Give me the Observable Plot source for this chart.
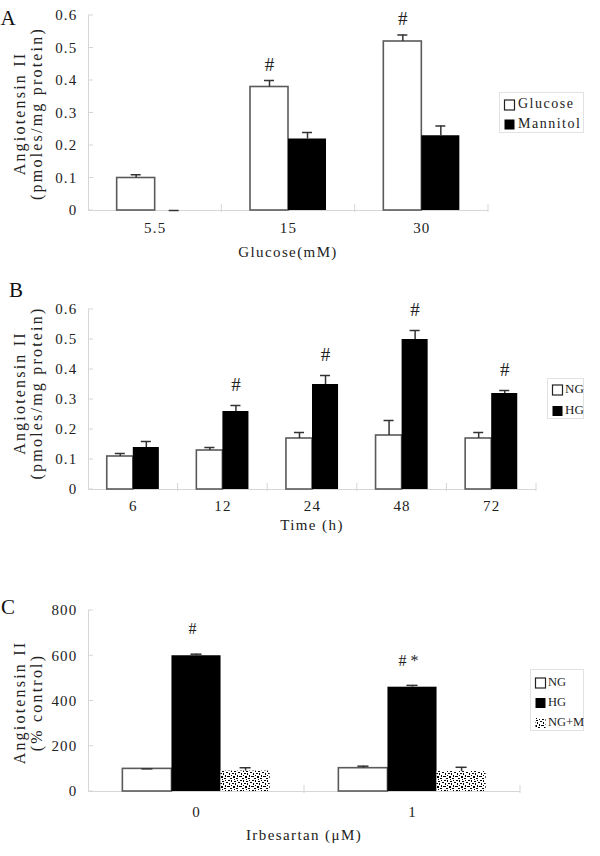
<!DOCTYPE html>
<html>
<head>
<meta charset="utf-8">
<script src="https://cdn.jsdelivr.net/npm/d3@7"></script>
<script src="https://cdn.jsdelivr.net/npm/@observablehq/plot@0.6"></script>
<style>
  body { margin: 0; background: #fff; }
  #root { position: relative; width: 600px; height: 856px; background: #fff; overflow: hidden; }
  #root svg { position: absolute; left: 0; }
</style>
</head>
<body>
<div id="root"></div>
<script>
// ---------- Panel A data ----------
const glucoseConc = ["5.5", "15", "30"];
const seriesA = ["Glucose", "Mannitol"];
const glucoseVals = [0.10, 0.38, 0.52];
const glucoseErr = [0.01, 0.02, 0.02];
const glucoseSig = ["", "#", "#"];
const mannitolVals = [0.0, 0.22, 0.23];
const mannitolErr = [0.0, 0.02, 0.03];
const mannitolSig = ["", "", ""];
const yTicksA = [0, 0.1, 0.2, 0.3, 0.4, 0.5, 0.6];

// ---------- Panel B data ----------
const timeH = ["6", "12", "24", "48", "72"];
const seriesB = ["NG", "HG"];
const ngVals = [0.11, 0.13, 0.17, 0.18, 0.17];
const ngErr = [0.01, 0.01, 0.02, 0.05, 0.02];
const ngSig = ["", "", "", "", ""];
const hgVals = [0.14, 0.26, 0.35, 0.50, 0.32];
const hgErr = [0.02, 0.02, 0.03, 0.03, 0.01];
const hgSig = ["", "#", "#", "#", "#"];
const yTicksB = [0, 0.1, 0.2, 0.3, 0.4, 0.5, 0.6];

// ---------- Panel C data ----------
const irbesartan = ["0", "1"];
const seriesC = ["NG", "HG", "NG+M"];
const ngCVals = [100, 103];
const ngCErr = [0, 9];
const ngCSig = ["", ""];
const hgCVals = [600, 461];
const hgCErr = [7, 8];
const hgCSig = ["#", "# *"];
const ngmCVals = [90, 88];
const ngmCErr = [15, 19];
const ngmCSig = ["", ""];
const yTicksC = [0, 200, 400, 600, 800];

const root = document.getElementById("root");
const SERIF = "'Liberation Serif', 'DejaVu Serif', serif";

function rowsFor(cats, names, vals, errs, sigs) {
  const out = [];
  cats.forEach((c, i) => names.forEach((s, j) => out.push({cat: c, series: s, value: vals[j][i], err: errs[j][i], sig: sigs[j][i]})));
  return out;
}

function drawPanel(cfg) {
  const rows = rowsFor(cfg.cats, cfg.series, cfg.vals, cfg.errs, cfg.sigs);
  const top = d => d.value + d.err;
  const marks = [Plot.ruleY([0], {stroke: "#d6d6d6", strokeWidth: 1})];
  cfg.series.forEach((s, j) => {
    marks.push(Plot.barY(rows.filter(d => d.series === s), {
      fx: "cat", x: "series", y: "value",
      fill: cfg.fills[j], stroke: cfg.strokes[j], strokeWidth: cfg.strokes[j] === "none" ? 0 : 1.6
    }));
  });
  marks.push(Plot.ruleX(rows.filter(d => d.err > 0), {fx: "cat", x: "series", y1: "value", y2: top, stroke: "#333", strokeWidth: 1.5}));
  marks.push(Plot.tickY(rows, {fx: "cat", x: "series", y: top, stroke: "#333", strokeWidth: 1.5, insetLeft: cfg.capInset, insetRight: cfg.capInset}));
  marks.push(Plot.text(rows.filter(d => d.sig), {fx: "cat", x: "series", y: top, text: "sig", dy: cfg.sigDy, dx: cfg.sigDx, fontSize: cfg.sigSize, fontFamily: SERIF, fill: "#222"}));
  marks.push(Plot.axisY({ticks: cfg.yTicks, tickFormat: cfg.tickFormat, tickSize: 0, tickPadding: 11, label: null, fontSize: 15, fontFamily: SERIF, fill: "#222"}));
  marks.push(Plot.axisFx({anchor: "bottom", tickSize: 0, tickPadding: cfg.fxPad, label: null, fontSize: 15, fontFamily: SERIF, fill: "#222"}));

  const plot = Plot.plot({
    width: 600, height: cfg.height,
    marginLeft: 88, marginRight: cfg.mRight, marginTop: cfg.mTop, marginBottom: cfg.mBottom,
    fx: {domain: cfg.cats, padding: 0, round: false},
    x: {domain: cfg.series, paddingInner: 0, paddingOuter: cfg.pad, round: false, axis: null},
    y: {domain: cfg.yDomain},
    style: {fontFamily: SERIF, fontSize: "15px", background: "transparent", overflow: "visible"},
    marks
  });

  const svg = d3.select(plot);
  svg.selectAll('[aria-label="y-axis tick label"] text, [aria-label="fx-axis tick label"] text').style("letter-spacing", "1.2px");

  if (cfg.defs) cfg.defs(svg);

  const fx = plot.scale("fx"), y = plot.scale("y");
  const y0 = y.apply(0), yTop = y.apply(cfg.yDomain[1]);
  const g = svg.insert("g", ":first-child").attr("stroke", "#d6d6d6").attr("fill", "none").attr("stroke-width", 1);
  g.append("line").attr("x1", 88.5).attr("x2", 88.5).attr("y1", yTop).attr("y2", y0);
  cfg.yTicks.forEach(t => g.append("line").attr("x1", 88).attr("x2", 93).attr("y1", y.apply(t)).attr("y2", y.apply(t)));
  cfg.cats.forEach(c => {
    const x0 = fx.apply(c) + fx.bandwidth;
    g.append("line").attr("x1", x0).attr("x2", x0).attr("y1", y0 - 6).attr("y2", y0 + 2);
  });

  // axis titles and panel letter
  const xc = (88 + 600 - cfg.mRight) / 2;
  svg.append("text").attr("x", xc).attr("y", y0 + cfg.xTitleOff).attr("text-anchor", "middle").attr("dominant-baseline", "middle")
    .attr("font-family", SERIF).attr("font-size", 15).attr("letter-spacing", "1.4px").attr("fill", "#222").text(cfg.xTitle);
  const yc = (y0 + yTop) / 2 + cfg.yTitleShift;
  cfg.yTitle.forEach((line, k) => {
    svg.append("text").attr("transform", `translate(${k === 0 ? 21 : 38},${yc}) rotate(-90)`).attr("text-anchor", "middle").attr("dominant-baseline", "middle")
      .attr("font-family", SERIF).attr("font-size", 16).attr("letter-spacing", "2.2px").attr("fill", "#222").text(line);
  });
  svg.append("text").attr("x", cfg.letterX).attr("y", cfg.letterY).attr("font-family", SERIF).attr("font-size", 21).attr("fill", "#111").text(cfg.letter);

  plot.style.top = cfg.top + "px";
  root.appendChild(plot);
  return plot;
}

function drawLegend(cfg) {
  const svg = d3.select(root).append("svg").attr("width", cfg.w).attr("height", cfg.h)
    .style("left", cfg.left + "px").style("top", cfg.top + "px");
  svg.append("rect").attr("x", 0.5).attr("y", 0.5).attr("width", cfg.w - 1).attr("height", cfg.h - 1).attr("fill", "#fff").attr("stroke", "#e2e2e2");
  cfg.names.forEach((n, i) => {
    const cy = cfg.y0 + i * cfg.step;
    svg.append("rect").attr("x", cfg.sx + 0.5).attr("y", cy - 5).attr("width", 10).attr("height", 10)
      .attr("fill", cfg.fills[i]).attr("stroke", cfg.strokes[i]).attr("stroke-width", cfg.strokes[i] === "none" ? 0 : 1.2);
    svg.append("text").attr("x", cfg.tx).attr("y", cy).attr("dominant-baseline", "middle")
      .attr("font-family", SERIF).attr("font-size", cfg.fontSize).attr("letter-spacing", cfg.spacing + "px").attr("fill", "#222").text(n);
  });
}

const tick1 = d => d === 0 ? "0" : d.toFixed(1);

// Panel A
drawPanel({
  top: 0, height: 270, mTop: 15, mBottom: 60, mRight: 112, pad: 0.754,
  cats: glucoseConc, series: seriesA,
  vals: [glucoseVals, mannitolVals], errs: [glucoseErr, mannitolErr], sigs: [glucoseSig, mannitolSig],
  fills: ["#fff", "#000"], strokes: ["#5a5a5a", "none"],
  yDomain: [0, 0.6], yTicks: yTicksA, tickFormat: tick1,
  capInset: 14, sigDy: -16, sigDx: 0, sigSize: 19, fxPad: 12,
  xTitle: "Glucose(mM)", xTitleOff: 44,
  yTitle: ["Angiotensin II", "(pmoles/mg protein)"], yTitleShift: 1,
  letter: "A", letterX: 8, letterY: 25
});
drawLegend({left: 499, top: 92, w: 85, h: 41, names: seriesA, fills: ["#fff", "#000"], strokes: ["#222", "none"],
  sx: 5, tx: 19, y0: 13, step: 19.5, fontSize: 14, spacing: 1.5});

// Panel B
drawPanel({
  top: 270, height: 290, mTop: 39, mBottom: 71, mRight: 64, pad: 0.72,
  cats: timeH, series: seriesB,
  vals: [ngVals, hgVals], errs: [ngErr, hgErr], sigs: [ngSig, hgSig],
  fills: ["#fff", "#000"], strokes: ["#5a5a5a", "none"],
  yDomain: [0, 0.6], yTicks: yTicksB, tickFormat: tick1,
  capInset: 8, sigDy: -21, sigDx: 0, sigSize: 19, fxPad: 11,
  xTitle: "Time (h)", xTitleOff: 38,
  yTitle: ["Angiotensin II", "(pmoles/mg protein)"], yTitleShift: -6,
  letter: "B", letterX: 16, letterY: 27
});
drawLegend({left: 547, top: 378, w: 37, h: 41, names: seriesB, fills: ["#fff", "#000"], strokes: ["#222", "none"],
  sx: 5, tx: 18, y0: 12, step: 21, fontSize: 13, spacing: 0});

// Panel C
function ngmPattern(svg) {
  const defs = svg.append("defs");
  const mk = (id, w, h, cells) => {
    const p = defs.append("pattern").attr("id", id).attr("width", w).attr("height", h).attr("patternUnits", "userSpaceOnUse");
    p.append("rect").attr("width", w).attr("height", h).attr("fill", "#fff");
    cells.forEach(([x, yy, cw, ch]) => p.append("rect").attr("x", x).attr("y", yy).attr("width", cw).attr("height", ch).attr("fill", "#000"));
  };
  mk("ngm", 12, 10, [[0,0,2,1],[3,0,1,2],[6,1,2,1],[9,0,1,1],[10,2,2,1],[1,3,1,2],[4,3,2,1],[7,3,1,2],[0,6,2,1],[3,5,1,1],[5,6,2,2],[9,5,1,2],[11,6,1,1],[2,8,2,1],[6,9,1,1],[8,8,2,1]]);
}
drawPanel({
  top: 560, height: 296, mTop: 50, mBottom: 65, mRight: 80, pad: 0.70,
  cats: irbesartan, series: seriesC,
  vals: [ngCVals, hgCVals, ngmCVals], errs: [ngCErr, hgCErr, ngmCErr], sigs: [ngCSig, hgCSig, ngmCSig],
  fills: ["#fff", "#000", "url(#ngm)"], strokes: ["#5a5a5a", "none", "none"],
  yDomain: [0, 800], yTicks: yTicksC, tickFormat: d => String(d),
  capInset: 19, sigDy: -25, sigDx: -4, sigSize: 16, fxPad: 15,
  xTitle: "Irbesartan (μM)", xTitleOff: 46,
  yTitle: ["Angiotensin II", "(% control)"], yTitleShift: 2,
  letter: "C", letterX: 8, letterY: 54,
  defs: ngmPattern
});
drawLegend({left: 530, top: 669, w: 54, h: 62, names: seriesC, fills: ["#fff", "#000", "url(#ngm)"], strokes: ["#222", "none", "none"],
  sx: 5, tx: 18, y0: 14, step: 20, fontSize: 12.5, spacing: 0});
</script>
</body>
</html>
